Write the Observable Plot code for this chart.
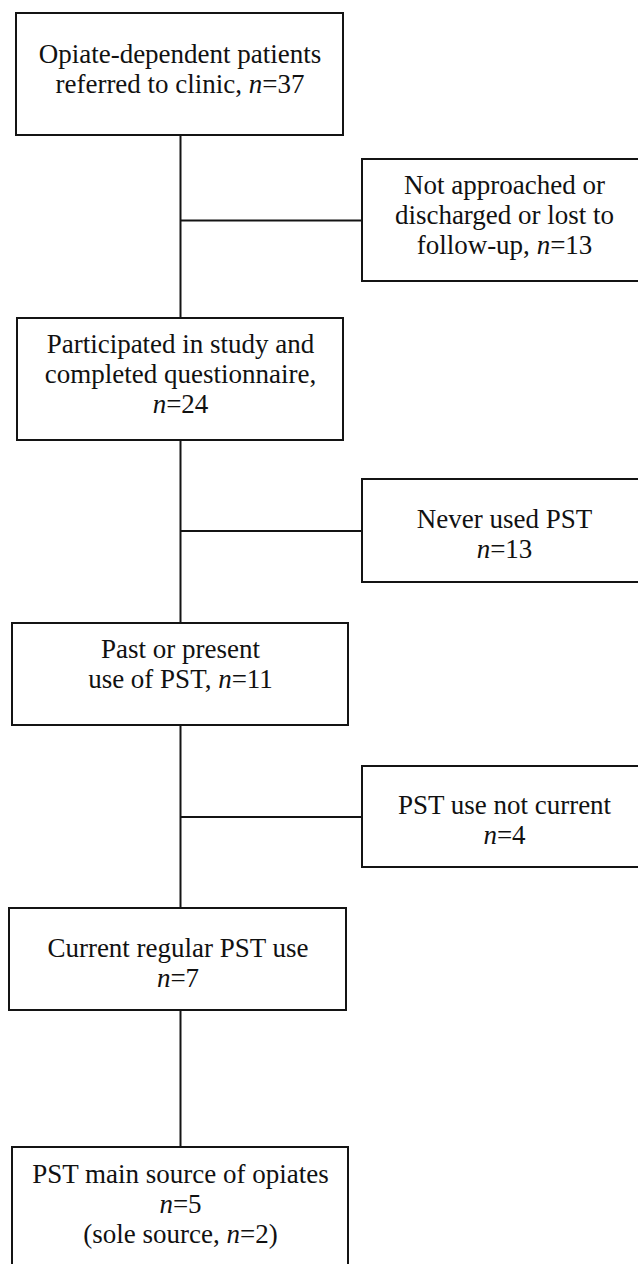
<!DOCTYPE html>
<html>
<head>
<meta charset="utf-8">
<script src="https://cdn.jsdelivr.net/npm/d3@7"></script>
<script src="https://cdn.jsdelivr.net/npm/@observablehq/plot@0.6"></script>
<style>
  html, body { margin: 0; padding: 0; background: #fff; overflow: hidden; }
  #chart svg { display: block; }
  #chart svg text { font-family: "Liberation Serif", "Times New Roman", Times, serif !important; font-size: 27px; }
</style>
</head>
<body>
<div id="chart"></div>
<script>
// ---- Data ----
const stageLabels = [
  ["Opiate-dependent patients", "referred to clinic, n=%"],
  ["Participated in study and", "completed questionnaire,", "n=%"],
  ["Past or present", "use of PST, n=%"],
  ["Current regular PST use", "n=%"],
  ["PST main source of opiates", "n=%", "(sole source, n=2)"]
];
const stageCounts = [37, 24, 11, 7, 5];
const exclusionLabels = [
  ["Not approached or", "discharged or lost to", "follow-up, n=%"],
  ["Never used PST", "n=%"],
  ["PST use not current", "n=%"]
];
const exclusionCounts = [13, 13, 4];

// ---- Layout (box geometry in page pixels) ----
const W = 638, H = 1264;
const spineX = 180;
const stageBoxes = [
  {x0: 16, x1: 343, y0: 13,   y1: 135,  base: 62},
  {x0: 17, x1: 343, y0: 318,  y1: 440,  base: 352},
  {x0: 12, x1: 348, y0: 623,  y1: 725,  base: 657},
  {x0: 9,  x1: 346, y0: 908,  y1: 1010, base: 956},
  {x0: 12, x1: 348, y0: 1147, y1: 1280, base: 1182}
];
const exclusionBoxes = [
  {x0: 362, x1: 646, y0: 159, y1: 281, base: 193},
  {x0: 362, x1: 646, y0: 479, y1: 582, base: 527},
  {x0: 362, x1: 646, y0: 766, y1: 867, base: 813}
];
const lineGap = 30;

const boxes = [...stageBoxes, ...exclusionBoxes];
const lines = [];
stageLabels.forEach((ls, i) => ls.forEach((t, j) => lines.push({
  text: t.replace("%", stageCounts[i]),
  x: (stageBoxes[i].x0 + stageBoxes[i].x1) / 2,
  y: stageBoxes[i].base + j * lineGap
})));
exclusionLabels.forEach((ls, i) => ls.forEach((t, j) => lines.push({
  text: t.replace("%", exclusionCounts[i]),
  x: 504,
  y: exclusionBoxes[i].base + j * lineGap
})));
const spine = [{y0: stageBoxes[0].y1, y1: stageBoxes[4].y0}];
const branches = exclusionBoxes.map(b => ({x0: spineX, x1: b.x0, y: (b.y0 + b.y1) / 2}));

const ink = "#141414";
const chart = Plot.plot({
  width: W, height: H,
  margin: 0,
  x: {domain: [0, W], range: [0, W], axis: null},
  y: {domain: [0, H], range: [0, H], axis: null},
  style: {background: "#fff"},
  marks: [
    Plot.ruleX(spine, {x: spineX, y1: "y0", y2: "y1", stroke: ink, strokeWidth: 2}),
    Plot.ruleY(branches, {y: "y", x1: "x0", x2: "x1", stroke: ink, strokeWidth: 2}),
    Plot.rect(boxes, {x1: "x0", x2: "x1", y1: "y0", y2: "y1", fill: "#fff", stroke: ink, strokeWidth: 2, clip: true}),
    Plot.text(lines, {x: "x", y: "y", text: "text", lineAnchor: "bottom", textAnchor: "middle",
      fontFamily: "Liberation Serif", fontSize: 27, fill: "#111"})
  ]
});
document.getElementById("chart").append(chart);

// italicise the statistic symbol "n"
const svgns = "http://www.w3.org/2000/svg";
chart.querySelectorAll("text").forEach(t => {
  const s = t.textContent;
  const m = s.match(/(^|[\s(,])n=/);
  if (!m) return;
  const i = m.index + m[1].length;
  t.textContent = "";
  t.append(document.createTextNode(s.slice(0, i)));
  const ts = document.createElementNS(svgns, "tspan");
  ts.setAttribute("font-style", "italic");
  ts.textContent = "n";
  t.append(ts);
  t.append(document.createTextNode(s.slice(i + 1)));
});
</script>
</body>
</html>
